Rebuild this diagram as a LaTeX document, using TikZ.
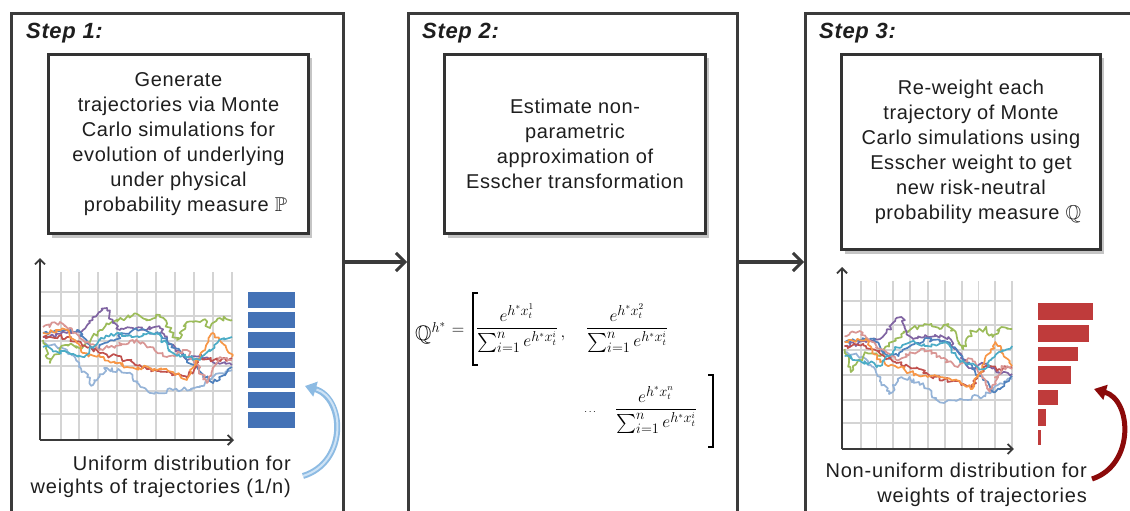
\documentclass[tikz,border=0pt]{standalone}
\usepackage{amsmath}
\usepackage{amssymb}
\usepackage{fontspec}
\setmainfont{Liberation Sans}
\usetikzlibrary{arrows.meta,decorations.pathmorphing,shadows}
\definecolor{panelc}{HTML}{3B3B3B}
\definecolor{txtc}{HTML}{1E1E1E}
\definecolor{gridc}{HTML}{D4D4D4}
\definecolor{axisc}{HTML}{3A3A3A}
\definecolor{cPurple}{HTML}{8064A2}
\definecolor{cGreen}{HTML}{9BBB59}
\definecolor{cOrange}{HTML}{F79646}
\definecolor{cRed}{HTML}{C0504D}
\definecolor{cPink}{HTML}{D99694}
\definecolor{cTeal}{HTML}{4BACC6}
\definecolor{cLight}{HTML}{95B3D7}
\definecolor{cDark}{HTML}{4F81BD}
\definecolor{barblue}{HTML}{4472B6}
\definecolor{barred}{HTML}{BF3B3B}
\definecolor{arrblue}{HTML}{8DBBE3}
\definecolor{arrbluein}{HTML}{CFE3F5}
\definecolor{arrred}{HTML}{8B0A0A}
\newcommand\mcchart{%
  \foreach \gx in {21,39,58,77,97,116,135,154,173,192} \draw[gridl] (\gx,0) -- (\gx,-168);
  \foreach \gy in {-148,-124,-99,-74,-49,-26} \draw[gridl] (0,\gy) -- (192,\gy);
  \pgfmathsetseed{7}
  \draw[traj,cLight] (3,-97) -- (27,-90) -- (40,-73) -- (53,-55) -- (67,-72) -- (87,-67) -- (110,-47) -- (133,-50) -- (160,-53) -- (173,-63) -- (192,-70);
  \draw[traj,cGreen] (3,-100) -- (10,-77) -- (25,-95) -- (43,-93) -- (60,-110) -- (73,-118) -- (93,-125) -- (110,-120) -- (120,-125) -- (137,-100) -- (147,-118) -- (163,-120) -- (170,-112) -- (180,-122) -- (192,-120);
  \draw[traj,cPurple] (3,-103) -- (27,-107) -- (43,-110) -- (60,-128) -- (67,-132) -- (73,-117) -- (80,-110) -- (93,-112) -- (120,-112) -- (127,-100) -- (147,-80) -- (160,-85) -- (177,-77) -- (192,-75);
  \draw[traj,cDark] (3,-107) -- (37,-110) -- (53,-90) -- (93,-110) -- (120,-107) -- (147,-80) -- (173,-57) -- (192,-73);
  \draw[traj,cRed] (3,-103) -- (27,-103) -- (60,-87) -- (87,-80) -- (103,-72) -- (127,-68) -- (147,-62) -- (160,-82) -- (177,-80) -- (192,-82);
  \draw[traj,cPink] (3,-113) -- (20,-118) -- (43,-100) -- (60,-90) -- (93,-100) -- (110,-93) -- (127,-83) -- (147,-90) -- (167,-57) -- (180,-83) -- (192,-80);
  \draw[traj,cOrange] (3,-107) -- (27,-110) -- (43,-87) -- (60,-83) -- (87,-73) -- (110,-72) -- (133,-68) -- (147,-60) -- (160,-85) -- (173,-107) -- (187,-90) -- (192,-83);
  \draw[traj,cTeal] (3,-93) -- (43,-83) -- (60,-100) -- (77,-107) -- (93,-103) -- (117,-107) -- (133,-87) -- (160,-80) -- (177,-97) -- (192,-103);
  \draw[axisl] (0,0) -- (0,-182);
  \draw[axisl] (0,0) -- (194,0);
}
\begin{document}
\begin{tikzpicture}[x=1pt,y=-1pt,
  panel/.style={draw=panelc,line width=3pt,fill=white,inner sep=0pt},
  ibox/.style={draw=black!80,line width=3pt,fill=white,inner sep=2pt,align=center,text=txtc,
    font=\fontsize{20}{25}\selectfont\addfontfeatures{LetterSpace=3},drop shadow={shadow xshift=3pt,shadow yshift=-4pt,opacity=0.45}},
  steplabel/.style={font=\fontsize{22}{24}\selectfont\bfseries\itshape\addfontfeatures{LetterSpace=3},text=txtc,inner sep=0pt},
  btext/.style={font=\fontsize{20}{25}\selectfont\addfontfeatures{LetterSpace=4},text=txtc,align=right,inner sep=0pt},
  gridl/.style={draw=gridc,line width=1.8pt},
  traj/.style={line width=1.7pt,line join=round,decorate,decoration={random steps,segment length=2.5pt,amplitude=2.3pt}},
  axisl/.style={draw=axisc,line width=2.6pt,-{Straight Barb[length=5pt,width=10pt,line width=1.8pt]}},
  flow/.style={draw=axisc,line width=4pt,-{Straight Barb[length=9pt,width=18pt,line width=3pt]}},
  mathn/.style={inner sep=0pt,font=\fontsize{19}{22}\selectfont,anchor=base}]
\useasboundingbox (0,0) rectangle (1130,511);
\clip (0,0) rectangle (1130,511);
\fill[white] (0,0) rectangle (1130,511);
% panels
\node[panel,minimum width=332pt,minimum height=530pt,anchor=north west] (p1) at (10,12) {};
\node[panel,minimum width=329pt,minimum height=530pt,anchor=north west] (p2) at (407,12) {};
\node[panel,minimum width=345pt,minimum height=530pt,anchor=north west] (p3) at (804,12) {};
% flow arrows
\draw[flow] (p1.east |- 0,262) -- (p2.west |- 0,262);
\draw[flow] (p2.east |- 0,262) -- (p3.west |- 0,262);
% step labels
\node[steplabel,anchor=west] (s1) at (26,33) {Step 1:};
\node[steplabel,anchor=west] (s2) at (422,33) {Step 2:};
\node[steplabel,anchor=west] (s3) at (819,33) {Step 3:};
% inner boxes
\node[ibox,minimum width=260pt,minimum height=179pt,anchor=north west] (b1) at (47,53)
  {Generate\\trajectories via Monte\\Carlo simulations for\\evolution of underlying\\under physical\\\hspace*{14pt}probability measure $\mathbb{P}$};
\node[ibox,minimum width=261pt,minimum height=179pt,anchor=north west] (b2) at (443,53)
  {Estimate non-\\parametric\\approximation of\\Esscher transformation};
\node[ibox,minimum width=259pt,minimum height=195pt,anchor=north west] (b3) at (840,53)
  {Re-weight each\\trajectory of Monte\\Carlo simulations using\\Esscher weight to get\\new risk-neutral\\\hspace*{14pt}probability measure $\mathbb{Q}$};
% chart 1
\begin{scope}[shift={(40,440)}]
  \mcchart
\end{scope}
% chart 3
\begin{scope}[shift={(842,449)},xscale=0.886]
  \mcchart
\end{scope}
% blue bars
\foreach \k in {0,...,6} \fill[barblue] (248,292+20*\k) rectangle (295,308+20*\k);
% red bars
\fill[barred] (1038,303) rectangle (1093,320);
\fill[barred] (1038,325) rectangle (1089,342);
\fill[barred] (1038,347) rectangle (1078,361);
\fill[barred] (1038,366) rectangle (1071,384);
\fill[barred] (1038,390) rectangle (1058,405);
\fill[barred] (1038,409) rectangle (1046,426);
\fill[barred] (1038,430) rectangle (1041,445);
% curved arrows
\coordinate (bt) at (303,476);
\coordinate (bh) at (305,386);
\draw[arrblue,line width=6pt,-{Triangle[length=11pt,width=15pt]}] (bt) .. controls (348,462) and (345,398) .. (bh);
\draw[arrbluein,line width=2pt,shorten >=12pt] (bt) .. controls (348,462) and (345,398) .. (bh);
\coordinate (rt) at (1092,479);
\coordinate (rh) at (1094,389);
\draw[arrred,line width=5pt,-{Triangle[length=12pt,width=15pt]}] (rt) .. controls (1135,465) and (1132,400) .. (rh);
% bottom texts
\node[btext,anchor=east] (t1) at (291,463) {Uniform distribution for};
\node[btext,anchor=east] (t2) at (291,488) {weights of trajectories (1/n)};
\node[btext,anchor=east] (t3) at (1087,470) {Non-uniform distribution for};
\node[btext,anchor=east] (t4) at (1087,497) {weights of trajectories};
% formula
\node[mathn,anchor=base west,font=\fontsize{21}{24}\selectfont] (q) at (415,340) {$\mathbb{Q}^{h^*}$};
\node[mathn] (eq) at (458,334) {$=$};
\node[mathn] (f1) at (517,333) {$\dfrac{e^{h^* x_t^1}}{\sum_{i=1}^{n} e^{h^* x_t^i}}$};
\node[mathn] (cm) at (563,337) {$,$};
\node[mathn] (f2) at (627,333) {$\dfrac{e^{h^* x_t^2}}{\sum_{i=1}^{n} e^{h^* x_t^i}}$};
\node[mathn,font=\fontsize{10}{12}\selectfont] (dt) at (591,414) {$\cdots$};
\node[mathn] (f3) at (656,414) {$\dfrac{e^{h^* x_t^n}}{\sum_{i=1}^{n} e^{h^* x_t^i}}$};
\draw[line width=1.5pt] (478,293) -- (473,293) -- (473,365) -- (478,365);
\draw[line width=1.5pt] (708,375) -- (713,375) -- (713,447) -- (708,447);
\end{tikzpicture}
\end{document}
